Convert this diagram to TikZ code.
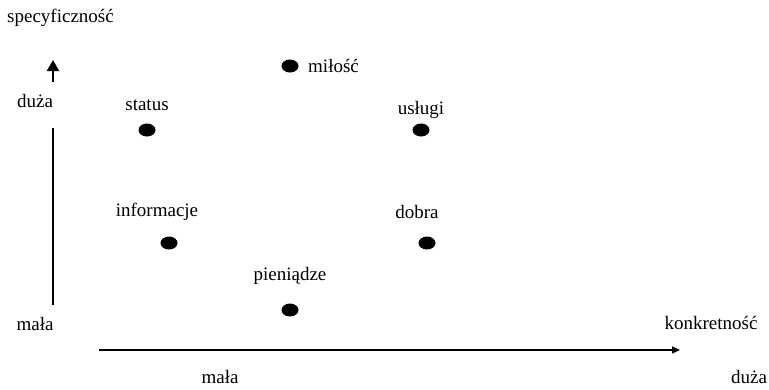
\documentclass[tikz,border=0pt]{standalone}
\usepackage{fontspec}
\setmainfont{Liberation Serif}
\usetikzlibrary{arrows.meta,shapes.geometric}
\begin{document}
\begin{tikzpicture}[x=1pt,y=-1pt,
  lbl/.style={inner sep=0pt,font=\fontsize{19}{22}\selectfont},
  dot/.style={ellipse,fill=black,minimum width=17pt,minimum height=13pt,inner sep=0pt},
  axis/.style={line width=2pt}]
\useasboundingbox (0,0) rectangle (769,389);
\fill[white] (0,0) rectangle (769,389);
% axis labels
\node[lbl,anchor=west] (spec) at (7,18) {specyficzność};
\node[lbl] (dl) at (35,101) {duża};
\node[lbl] (ml) at (35,324) {mała};
\node[lbl,anchor=base] (mb) at (220,383) {mała};
\node[lbl,anchor=base] (db) at (749,383) {duża};
\node[lbl] (konk) at (711,323) {konkretność};
% axes
\coordinate (vtop) at (53,128);
\coordinate (vbot) at (53,305);
\draw[axis] (vtop) -- (vbot);
\coordinate (atail) at (53,82);
\coordinate (ahead) at (53,60);
\draw[axis,-{Triangle[width=12pt,length=11pt]}] (atail) -- (ahead);
\coordinate (hl) at (99,350);
\coordinate (hr) at (680,350);
\draw[line width=1.6pt,-{Triangle[width=7pt,length=8pt]}] (hl) -- (hr);
% points
\node[dot] (milosc) at (290,66) {};
\node[lbl,anchor=west] (miloscl) at (308,66) {miłość};
\node[dot] (status) at (147,130) {};
\node[lbl] (statusl) at (147,105) {status};
\node[dot] (uslugi) at (421,130) {};
\node[lbl] (uslugil) at (421,110) {usługi};
\node[dot] (info) at (169,243) {};
\node[lbl] (infol) at (157,212) {informacje};
\node[dot] (dobra) at (427,243) {};
\node[lbl] (dobral) at (417,212) {dobra};
\node[dot] (pien) at (290,310) {};
\node[lbl] (pienl) at (290,276) {pieniądze};
\end{tikzpicture}
\end{document}
